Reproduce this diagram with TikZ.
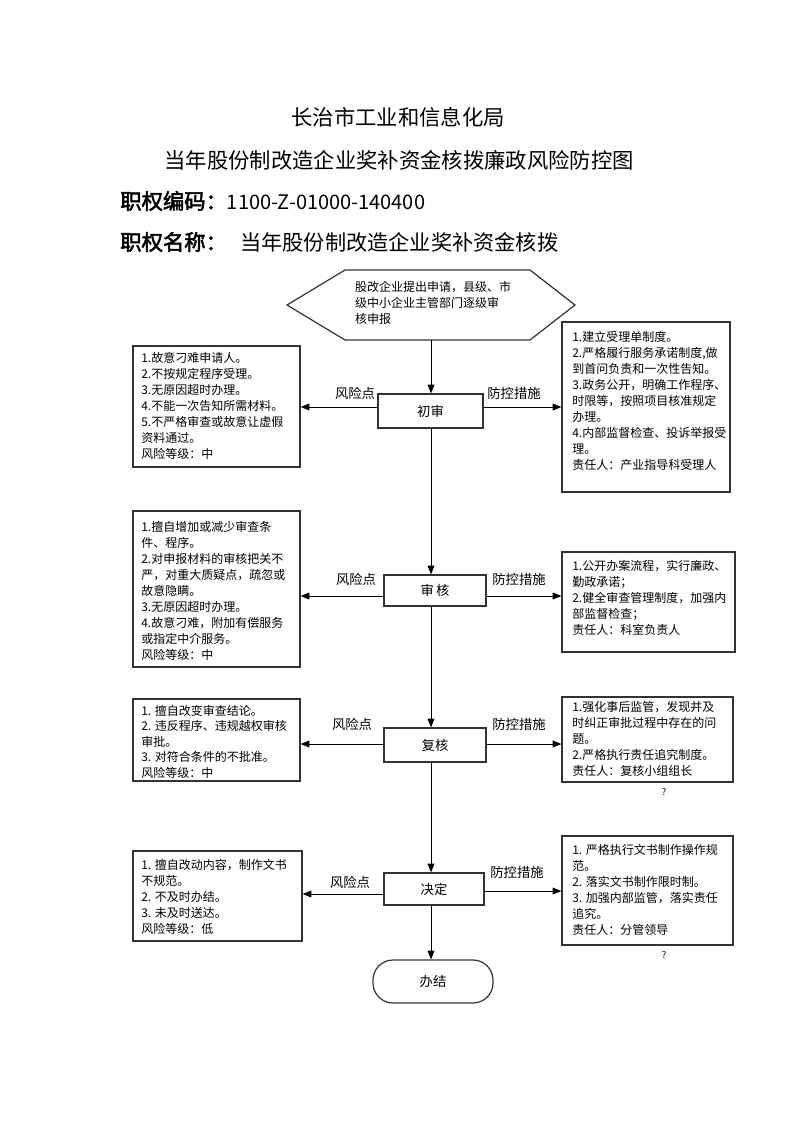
\documentclass[tikz,border=0pt]{standalone}
\usepackage{fontspec}
\setmainfont{Noto Sans CJK SC}
\newfontfamily\hbold[FakeBold=2.5]{Noto Sans CJK SC}
\usetikzlibrary{arrows.meta,fit}
\begin{document}
\begin{tikzpicture}[x=0.75pt,y=-0.75pt,
  every node/.style={inner sep=0pt},
  bx/.style={draw=black!80, line width=0.9pt, inner sep=0pt},
  pbox/.style={draw=black!80, line width=0.9pt, inner sep=0pt, font=\fontsize{10pt}{12pt}\selectfont},
  txt/.style={anchor=north west, align=left, font=\fontsize{9pt}{12pt}\selectfont},
  lab/.style={font=\fontsize{10pt}{12pt}\selectfont},
  arr/.style={draw=black, line width=0.75pt, -{Triangle[length=6.5pt,width=5pt]}},
  qm/.style={font=\fontsize{7pt}{8pt}\selectfont}
]
\fill[white] (0,0) rectangle (794,1123);
\useasboundingbox (0,0) rectangle (794,1123);

% headings
\node[font=\fontsize{16pt}{18pt}\selectfont] (t1) at (398,117) {长治市工业和信息化局};
\node[font=\fontsize{16pt}{18pt}\selectfont] (t2) at (399,160) {当年股份制改造企业奖补资金核拨廉政风险防控图};
\node[anchor=west, font=\fontsize{15pt}{16pt}\selectfont] (t3) at (120,201) {{\fontsize{16pt}{16pt}\selectfont\hbold 职权编码：}1100-Z-01000-140400};
\node[anchor=west, font=\fontsize{16pt}{16pt}\selectfont\hbold] (t4) at (120,242) {职权名称：};
\node[anchor=west, font=\fontsize{15.9pt}{18pt}\selectfont] (t5) at (240,242) {当年股份制改造企业奖补资金核拨};

% hexagon start
\draw[black!80, line width=0.9pt] (287,305) -- (345,270) -- (530,270) -- (575,305) -- (530,340) -- (345,340) -- cycle;
\coordinate (hexb) at (431,340);
\node[align=left, font=\fontsize{9pt}{12pt}\selectfont] (hex) at (433,303) {股改企业提出申请，县级、市\\级中小企业主管部门逐级审\\核申报};

% process boxes
\node[pbox, fit={(378,394) (483,428)}] (chu) {};
\node[lab] at (chu.center) {初审};
\node[pbox, fit={(384,575) (486,606)}] (shen) {};
\node[lab] at (shen.center) {审\,核};
\node[pbox, fit={(384,728) (486,762)}] (fu) {};
\node[lab] at (fu.center) {复核};
\node[pbox, fit={(384,873) (484,905)}] (jue) {};
\node[lab] at (jue.center) {决定};
\node[pbox, fit={(373,960) (493,1003)}, rounded corners=15pt] (ban) {};
\node[lab] at (ban.center) {办结};

% risk boxes (left)
\node[bx, fit={(133,346) (300,467)}] (L1) {};
\node[txt] (L1t) at (141,352) {1.故意刁难申请人。\\2.不按规定程序受理。\\3.无原因超时办理。\\4.不能一次告知所需材料。\\5.不严格审查或故意让虚假\\资料通过。\\风险等级：中};
\node[bx, fit={(133,511) (300,667)}] (L2) {};
\node[txt] (L2t) at (141,521) {1.擅自增加或减少审查条\\件、程序。\\2.对申报材料的审核把关不\\严，对重大质疑点，疏忽或\\故意隐瞒。\\3.无原因超时办理。\\4.故意刁难，附加有偿服务\\或指定中介服务。\\风险等级：中};
\node[bx, fit={(133,699) (300,781)}] (L3) {};
\node[txt, font=\fontsize{9pt}{11.6pt}\selectfont] (L3t) at (141,705) {1. 擅自改变审查结论。\\2. 违反程序、违规越权审核\\审批。\\3. 对符合条件的不批准。\\风险等级：中};
\node[bx, fit={(133,851) (302,941)}] (L4) {};
\node[txt] (L4t) at (141,859) {1. 擅自改动内容，制作文书\\不规范。\\2. 不及时办结。\\3. 未及时送达。\\风险等级：低};

% control boxes (right)
\node[bx, fit={(562,322) (730,492)}] (R1) {};
\node[txt] (R1t) at (572,331) {1.建立受理单制度。\\2.严格履行服务承诺制度,做\\到首问负责和一次性告知。\\3.政务公开，明确工作程序、\\时限等，按照项目核准规定\\办理。\\4.内部监督检查、投诉举报受\\理。\\责任人：产业指导科受理人};
\node[bx, fit={(562,552) (735,652)}] (R2) {};
\node[txt] (R2t) at (572,560) {1.公开办案流程，实行廉政、\\勤政承诺；\\2.健全审查管理制度，加强内\\部监督检查；\\责任人：科室负责人};
\node[bx, fit={(562,697) (733,782)}] (R3) {};
\node[txt] (R3t) at (572,701) {1.强化事后监管，发现并及\\时纠正审批过程中存在的问\\题。\\2.严格执行责任追究制度。\\责任人：复核小组组长};
\node[bx, fit={(562,836) (733,945)}] (R4) {};
\node[txt] (R4t) at (572,844) {1. 严格执行文书制作操作规\\范。\\2. 落实文书制作限时制。\\3. 加强内部监管，落实责任\\追究。\\责任人：分管领导};

\node[qm] (q1) at (664,792) {?};
\node[qm] (q2) at (664,955) {?};

% main flow
\draw[arr] (hexb) -- (hexb |- chu.north);
\draw[arr] (hexb |- chu.south) -- (hexb |- shen.north);
\draw[arr] (hexb |- shen.south) -- (hexb |- fu.north);
\draw[arr] (hexb |- fu.south) -- (hexb |- jue.north);
\draw[arr] (hexb |- jue.south) -- (hexb |- ban.north);

% side arrows
\coordinate (y1) at (0,407);
\coordinate (y2) at (0,596);
\coordinate (y3) at (0,744);
\coordinate (y4l) at (0,894);
\coordinate (y4r) at (0,891);
\draw[arr] (chu.west |- y1) -- (L1.east |- y1);
\draw[arr] (chu.east |- y1) -- (R1.west |- y1);
\draw[arr] (shen.west |- y2) -- (L2.east |- y2);
\draw[arr] (shen.east |- y2) -- (R2.west |- y2);
\draw[arr] (fu.west |- y3) -- (L3.east |- y3);
\draw[arr] (fu.east |- y3) -- (R3.west |- y3);
\draw[arr] (jue.west |- y4l) -- (L4.east |- y4l);
\draw[arr] (jue.east |- y4r) -- (R4.west |- y4r);

% labels
\node[lab] (f1) at (355,393) {风险点};
\node[lab] (p1) at (514,393) {防控措施};
\node[lab] (f2) at (356,579) {风险点};
\node[lab] (p2) at (519,579) {防控措施};
\node[lab] (f3) at (352,724) {风险点};
\node[lab] (p3) at (519,724) {防控措施};
\node[lab] (f4) at (350,882) {风险点};
\node[lab] (p4) at (517,872) {防控措施};
\end{tikzpicture}
\end{document}
